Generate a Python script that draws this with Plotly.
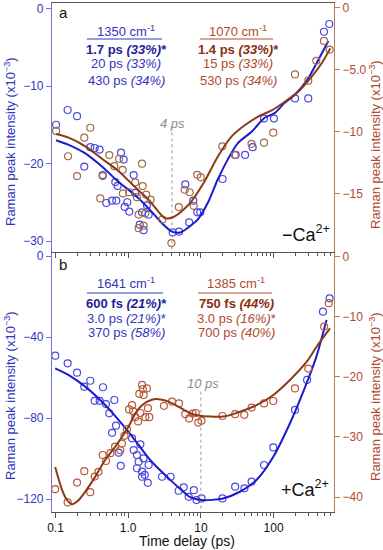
import plotly.graph_objects as go

# ---------------- Panel a (−Ca2+) ----------------
a_blue_t = [0.102, 0.147, 0.198, 0.249, 0.301, 0.346, 0.405, 0.446, 0.500, 0.599, 0.686, 0.796,
            0.665, 0.716, 0.867, 1.19, 0.895, 1.035, 0.972, 1.25, 1.55, 1.81, 1.91, 1.44, 1.63,
            4.09, 5.0, 6.1, 6.9, 7.86, 8.9, 9.8, 19.9, 30.1, 40.5, 51.5, 73.8, 101, 197, 300, 493, 583]
a_blue_v = [-15.0, -13.1, -13.9, -20.4, -17.9, -18.0, -18.2, -21.5, -25.1, -24.8, -24.8, -18.6,
            -22.4, -22.9, -19.5, -21.5, -25.6, -26.2, -25.0, -23.8, -26.3, -25.4, -26.6, -27.9, -28.6,
            -28.9, -28.8, -22.7, -27.6, -24.8, -26.3, -26.3, -22.0, -18.9, -18.9, -17.9, -14.2, -14.2,
            -11.6, -11.6, -3.0, -2.0]

a_brown_t = [0.102, 0.149, 0.198, 0.249, 0.301, 0.413, 0.446, 0.55, 0.645, 0.75, 0.837, 0.847,
             1.035, 1.25, 1.55, 1.32, 1.58, 1.77, 2.03, 1.72, 1.39, 1.63, 1.39, 2.95, 3.93, 4.97,
             6.0, 7.0, 7.97, 8.9, 9.96, 19.7, 29.3, 49.7, 73.8, 98.9, 197, 300, 387, 493, 590]
a_brown_v = [-9.96, -12.0, -13.6, -10.5, -9.7, -15.4, -13.6, -11.9, -12.8, -12.2, -13.1, -15.0,
             -14.9, -14.1, -12.6, -15.3, -14.4, -15.1, -15.5, -16.6, -16.7, -17.6, -17.8, -17.1,
             -19.0, -16.1, -14.7, -14.9, -16.0, -13.5, -13.7, -11.2, -11.9, -11.0, -10.9, -10.1,
             -5.4, -5.9, -4.3, -2.7, -3.4]

a_fit_blue_t = [0.1016, 0.152, 0.257, 0.436, 0.74, 1.25, 1.91, 2.91, 4.0, 5.2, 7.5, 9.1, 12.4,
                17.0, 23.4, 32.1, 49.8, 75.4, 103, 141, 193, 291, 398, 567]
a_fit_blue_v = [-17.0, -17.6, -18.7, -20.4, -22.4, -24.1, -25.8, -27.7, -28.8, -28.9, -27.9, -27.2,
                -25.1, -22.1, -19.5, -17.4, -15.9, -14.1, -13.5, -12.2, -11.2, -9.2, -6.9, -4.2]

a_fit_brown_t = [0.102, 0.152, 0.257, 0.436, 0.74, 1.25, 1.91, 2.63, 3.24, 4.22, 5.8, 7.5, 11.3,
                 17.2, 26.5, 40.1, 61.5, 94.1, 143, 218, 332, 459, 603]
a_fit_brown_v = [-10.2, -10.5, -11.2, -12.2, -13.2, -14.5, -15.5, -16.5, -17.0, -16.9, -16.3, -15.6,
                 -14.0, -12.0, -10.4, -9.5, -8.8, -8.3, -7.6, -6.8, -5.6, -4.5, -3.3]

# ---------------- Panel b (+Ca2+) ----------------
b_blue_t = [0.0994, 0.147, 0.198, 0.249, 0.301, 0.346, 0.405, 0.45, 0.495, 0.55, 0.645, 0.68, 0.6,
            0.74, 0.79, 1.13, 1.47, 1.19, 1.32, 1.39, 1.63, 1.91, 1.32, 1.55, 1.69, 1.55, 1.86, 2.92,
            3.83, 4.94, 5.8, 6.8, 8.0, 8.7, 10.2, 19.8, 29.6, 39.7, 49.9, 74.0, 99.0, 197, 289, 478, 589]
b_blue_v = [-49.2, -53.0, -57.6, -64.5, -61.6, -71.5, -71.5, -64.8, -73.1, -77.7, -71.1, -83.8, -87.3,
            -97.1, -103.6, -90.0, -93.0, -95.8, -98.3, -101.6, -99.9, -103.2, -104.8, -106.5, -108.1,
            -109.0, -112.0, -109.0, -109.0, -115.9, -114.2, -118.9, -115.6, -120.5, -119.7, -119.7,
            -113.9, -114.7, -111.4, -103.2, -94.5, -76.0, -61.2, -27.5, -20.9]

b_brown_t = [0.099, 0.147, 0.198, 0.249, 0.301, 0.346, 0.39, 0.446, 0.495, 0.57, 0.66, 0.78, 0.82,
             0.89, 0.96, 1.03, 1.17, 1.13, 1.25, 1.37, 1.47, 1.55, 1.42, 1.63, 1.81, 1.87, 1.95, 1.72,
             1.59, 3.1, 4.0, 5.0, 6.1, 6.9, 7.7, 8.5, 9.2, 10.2, 19.8, 29.6, 39.5, 49.9, 74, 99,
             197, 300, 496, 575]
b_brown_v = [-38.7, -40.9, -37.6, -35.7, -39.2, -36.6, -35.8, -33.0, -34.0, -32.7, -31.6, -32.2, -31.1,
             -29.8, -28.7, -25.4, -25.7, -24.7, -26.7, -27.4, -26.0, -21.3, -22.8, -23.0, -21.9, -25.2,
             -26.7, -26.7, -22.0, -24.8, -24.1, -24.4, -26.2, -26.9, -26.1, -26.0, -27.6, -27.3, -26.5,
             -26.2, -26.3, -25.1, -24.4, -24.0, -21.9, -18.6, -11.6, -7.7]

b_fit_blue_t = [0.099, 0.152, 0.257, 0.436, 0.74, 1.01, 1.39, 2.11, 3.6, 6.1, 7.0, 10.2, 20.2, 34.4,
                58.2, 99.2, 168, 284, 388, 535]
b_fit_blue_v = [-55.5, -58.8, -64.5, -72.0, -81.0, -86.8, -93.3, -101.6, -109.8, -117.2, -118.9,
                -120.5, -119.7, -116.4, -110.6, -99.1, -82.6, -62.9, -49.7, -31.6]

b_fit_brown_t = [0.099, 0.123, 0.144, 0.169, 0.209, 0.257, 0.353, 0.484, 0.664, 0.82, 1.01, 1.25,
                 1.55, 2.11, 2.63, 3.6, 6.1, 7.0, 9.3, 20.2, 34.4, 58.2, 99.2, 168, 284, 388, 596]
b_fit_brown_v = [-35.0, -38.8, -40.5, -41.2, -40.5, -39.1, -36.6, -33.8, -31.6, -30.0, -28.3, -26.1,
                 -24.7, -23.8, -23.7, -24.1, -25.6, -26.0, -26.4, -26.6, -25.8, -24.7, -23.0, -20.5,
                 -17.5, -15.0, -11.9]

x_tickvals = [0.1, 1, 10, 100]
x_ticktext = ["0.1", "1.0", "10", "100"]

FONT = "Liberation Sans, Arial, sans-serif"
BLUE_PT = "#4a4ae0"
BLUE_LN = "#1c1ccc"
BROWN_PT_A = "#a06c48"
BROWN_PT_B = "#b85a3c"
BROWN_LN = "#8a3a14"
BLUE_AX = "#7070e0"
BROWN_AX = "#b08060"
BLUE_TXT = "#3434c0"
BROWN_TXT = "#b04a2e"

fig = go.Figure()

def pts(t, v, color, xa, ya):
    return go.Scatter(x=t, y=v, mode="markers", xaxis=xa, yaxis=ya, showlegend=False,
                      marker=dict(symbol="circle-open", size=7, color=color, line=dict(width=1.2, color=color)))

def fit(t, v, color, xa, ya):
    return go.Scatter(x=t, y=v, mode="lines", xaxis=xa, yaxis=ya, showlegend=False,
                      line=dict(color=color, width=2, shape="spline", smoothing=0.8))

# top panel: x2 / y3 (left), y4 (right)
fig.add_trace(pts(a_brown_t, a_brown_v, BROWN_PT_A, "x2", "y4"))
fig.add_trace(pts(a_blue_t, a_blue_v, BLUE_PT, "x2", "y3"))
fig.add_trace(go.Scatter(x=[4, 4], y=[-15.2, -31.4], mode="lines", xaxis="x2", yaxis="y3", showlegend=False,
                         line=dict(color="#999999", width=1, dash="dot")))
fig.add_trace(fit(a_fit_brown_t, a_fit_brown_v, BROWN_LN, "x2", "y4"))
fig.add_trace(fit(a_fit_blue_t, a_fit_blue_v, BLUE_LN, "x2", "y3"))

# bottom panel: x / y (left), y2 (right)
fig.add_trace(pts(b_brown_t, b_brown_v, BROWN_PT_B, "x", "y2"))
fig.add_trace(pts(b_blue_t, b_blue_v, BLUE_PT, "x", "y"))
fig.add_trace(go.Scatter(x=[10, 10], y=[-67, -126.4], mode="lines", xaxis="x", yaxis="y", showlegend=False,
                         line=dict(color="#999999", width=1, dash="dot")))
fig.add_trace(fit(b_fit_brown_t, b_fit_brown_v, BROWN_LN, "x", "y2"))
fig.add_trace(fit(b_fit_blue_t, b_fit_blue_v, BLUE_LN, "x", "y"))

W, H = 383, 550
L, R, T, B = 52, 334, 3, 512
split = (B - 252) / (B - T)

def px(xp):
    return (xp - L) / (R - L)

def py(yp):
    return (B - yp) / (B - T)

minor_vals = [v * m for m in (0.1, 1, 10) for v in range(2, 10)] + [200, 300, 400, 500, 600]

xcommon = dict(type="log", range=[-1.048, 2.831], showgrid=False, zeroline=False, automargin=False,
               showline=True, linecolor="#555555", linewidth=1.2,
               ticks="outside", ticklen=5, tickcolor="#555555", tickwidth=1.2,
               tickvals=x_tickvals, ticktext=x_ticktext,
               minor=dict(tickvals=minor_vals, ticks="outside", ticklen=3, tickcolor="#555555", tickwidth=1),
               tickfont=dict(family=FONT, size=12, color="#111111"))

ycommon = dict(showgrid=False, zeroline=False, showline=True, linewidth=1.2, automargin=False,
               ticks="outside", ticklen=5, tickwidth=1.2)

fig.update_layout(
    width=W, height=H, margin=dict(l=L, r=W - R, t=T, b=H - B, autoexpand=False),
    plot_bgcolor="white", paper_bgcolor="white", showlegend=False,
    font=dict(family=FONT, size=12),
    xaxis=dict(**xcommon, anchor="y", domain=[0, 1], ticklabelstandoff=-1),
    xaxis2=dict(**xcommon, anchor="y3", matches="x", showticklabels=False, mirror=True,
                domain=[0, 1]),
    yaxis=dict(**ycommon, domain=[0, split], range=[-126.4, 1.98], anchor="x",
               linecolor=BLUE_AX, tickcolor=BLUE_AX,
               tickvals=[0, -40, -80, -120], ticktext=["0", "−40", "−80", "−120"],
               tickfont=dict(family=FONT, size=12, color=BLUE_TXT)),
    yaxis2=dict(**ycommon, overlaying="y", side="right", range=[-42.5, 0.83], anchor="x",
                linecolor=BROWN_AX, tickcolor=BROWN_AX,
                tickvals=[0, -10, -20, -30, -40], ticktext=["0", "−10", "−20", "−30", "−40"],
                tickfont=dict(family=FONT, size=12, color=BROWN_TXT)),
    yaxis3=dict(**ycommon, domain=[split, 1], range=[-31.42, 0.71], anchor="x2",
                linecolor=BLUE_AX, tickcolor=BLUE_AX,
                tickvals=[0, -10, -20, -30], ticktext=["0", "−10", "−20", "−30"],
                tickfont=dict(family=FONT, size=12, color=BLUE_TXT)),
    yaxis4=dict(**ycommon, overlaying="y3", side="right", range=[-19.72, 0.36], anchor="x2",
                linecolor=BROWN_AX, tickcolor=BROWN_AX,
                tickvals=[0, -5, -10, -15], ticktext=["0", "−5.0", "−10", "−15"],
                tickfont=dict(family=FONT, size=12, color=BROWN_TXT)),
)

ann = []

def text(x, y, s, color, size=13, angle=0, xanchor="center", yanchor="middle"):
    ann.append(dict(x=px(x), y=py(y), xref="paper", yref="paper", text=s, showarrow=False,
                    font=dict(family=FONT, size=size, color=color), textangle=angle,
                    xanchor=xanchor, yanchor=yanchor))

# panel letters and Ca labels
text(63, 13, "a", "#111111", 15)
text(63, 264, "b", "#111111", 15)
text(306, 233, "−Ca<sup>2+</sup>", "#111111", 18)
text(305, 488, "+Ca<sup>2+</sup>", "#111111", 18)

# dashed-line labels
text(172, 123, "<i>4 ps</i>", "#8c8c8c", 13)
text(203, 383, "<i>10 ps</i>", "#8c8c8c", 13)

# fit parameter blocks
BLUE_BOLD = "#1e1e9a"
BROWN_BOLD = "#8a2e10"
text(126, 31, "1350 cm<sup>-1</sup>", BLUE_TXT)
text(126, 50, "<b>1.7 ps <i>(33%)</i>*</b>", BLUE_BOLD)
text(126, 64, "20 ps <i>(33%)</i>", BLUE_TXT)
text(126, 80, "430 ps <i>(34%)</i>", BLUE_TXT)

text(238, 31, "1070 cm<sup>-1</sup>", BROWN_TXT)
text(238, 50, "<b>1.4 ps <i>(33%)</i>*</b>", BROWN_BOLD)
text(238, 64, "15 ps <i>(33%)</i>", BROWN_TXT)
text(238, 80, "530 ps <i>(34%)</i>", BROWN_TXT)

text(126, 283, "1641 cm<sup>-1</sup>", BLUE_TXT)
text(126, 303, "<b>600 fs <i>(21%)</i>*</b>", BLUE_BOLD)
text(126, 318, "3.0 ps <i>(21%)</i>*", BLUE_TXT)
text(126, 332, "370 ps <i>(58%)</i>", BLUE_TXT)

text(236, 283, "1385 cm<sup>-1</sup>", BROWN_TXT)
text(236, 303, "<b>750 fs <i>(44%)</i></b>", BROWN_BOLD)
text(236, 318, "3.0 ps <i>(16%)</i>*", BROWN_TXT)
text(236, 332, "700 ps <i>(40%)</i>", BROWN_TXT)

# axis titles
ytitle = "Raman peak intensity (x10<sup>−3</sup>)"
text(10, 142, ytitle, BLUE_TXT, 13, -90)
text(375, 145, ytitle, BROWN_TXT, 13, -90)
text(10, 396, ytitle, BLUE_TXT, 13, -90)
text(375, 397, ytitle, BROWN_TXT, 13, -90)
text(187, 541, "Time delay (ps)", "#111111", 14)

fig.update_layout(annotations=ann)

shapes = []
for (x0, x1, y, c) in [(87, 162, 39, BLUE_TXT), (200, 273, 39, BROWN_TXT),
                       (87, 163, 293, BLUE_TXT), (198, 272, 293, BROWN_TXT)]:
    shapes.append(dict(type="line", xref="paper", yref="paper", x0=px(x0), x1=px(x1),
                       y0=py(y), y1=py(y), line=dict(color=c, width=1)))
fig.update_layout(shapes=shapes)

fig.write_html("out.html", config={"displayModeBar": False},
               post_script="document.body.style.margin='0';document.body.style.padding='0';")
